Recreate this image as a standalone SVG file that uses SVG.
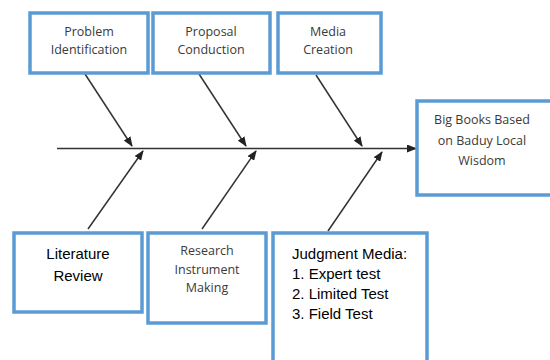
<svg xmlns="http://www.w3.org/2000/svg" width="550" height="360" viewBox="0 0 550 360">
<defs>
<marker id="ah" markerWidth="10" markerHeight="8" refX="9" refY="4" orient="auto" markerUnits="userSpaceOnUse">
<path d="M0,0 L10,4 L0,8 Z" fill="#222"/>
</marker>
<style>
.box{fill:#fff;stroke:#5b9bd5;stroke-width:3.5}
.lt{font-family:"Open Sans","Noto Sans",sans-serif;font-weight:400;font-size:12.5px;fill:#3a3a3a;text-anchor:middle}
.cb{font-family:"Liberation Sans","DejaVu Sans",sans-serif;font-size:15px;fill:#000}
.ln{stroke:#333;stroke-width:1.5;fill:none}
</style>
</defs>
<rect width="550" height="360" fill="#fff"/>
<g id="connectors">
<line class="ln" x1="57" y1="148.5" x2="416" y2="148.5" marker-end="url(#ah)"/>
<line class="ln" x1="85" y1="74" x2="132" y2="146" marker-end="url(#ah)"/>
<line class="ln" x1="199" y1="74" x2="246" y2="146" marker-end="url(#ah)"/>
<line class="ln" x1="316" y1="75" x2="362" y2="146" marker-end="url(#ah)"/>
<line class="ln" x1="88" y1="229" x2="143" y2="151" marker-end="url(#ah)"/>
<line class="ln" x1="202" y1="229" x2="256" y2="151" marker-end="url(#ah)"/>
<line class="ln" x1="328" y1="231" x2="382" y2="152" marker-end="url(#ah)"/>
</g>
<g id="problem">
<rect class="box" x="30" y="13" width="118" height="60"/>
<text class="lt" x="89" y="36">Problem</text>
<text class="lt" x="89" y="54">Identification</text>
</g>
<g id="proposal">
<rect class="box" x="153" y="13" width="117" height="60"/>
<text class="lt" x="211" y="36">Proposal</text>
<text class="lt" x="211" y="54">Conduction</text>
</g>
<g id="media">
<rect class="box" x="278" y="13" width="103" height="60"/>
<text class="lt" x="328" y="36">Media</text>
<text class="lt" x="328" y="54">Creation</text>
</g>
<g id="bigbooks">
<rect class="box" x="417" y="101" width="140" height="94"/>
<text class="lt" x="482" y="124">Big Books Based</text>
<text class="lt" x="482" y="145">on Baduy Local</text>
<text class="lt" x="482" y="165">Wisdom</text>
</g>
<g id="literature">
<rect class="box" x="14" y="233" width="128" height="79"/>
<text class="cb" x="78" y="259" text-anchor="middle">Literature</text>
<text class="cb" x="78" y="281" text-anchor="middle">Review</text>
</g>
<g id="research">
<rect class="box" x="148" y="233" width="118" height="90"/>
<text class="lt" x="207" y="255">Research</text>
<text class="lt" x="207" y="274">Instrument</text>
<text class="lt" x="207" y="292">Making</text>
</g>
<g id="judgment">
<rect class="box" x="273" y="233" width="154" height="140"/>
<text class="cb" x="292" y="259">Judgment Media:</text>
<text class="cb" x="292" y="279">1. Expert test</text>
<text class="cb" x="292" y="299">2. Limited Test</text>
<text class="cb" x="292" y="319">3. Field Test</text>
</g>
</svg>
